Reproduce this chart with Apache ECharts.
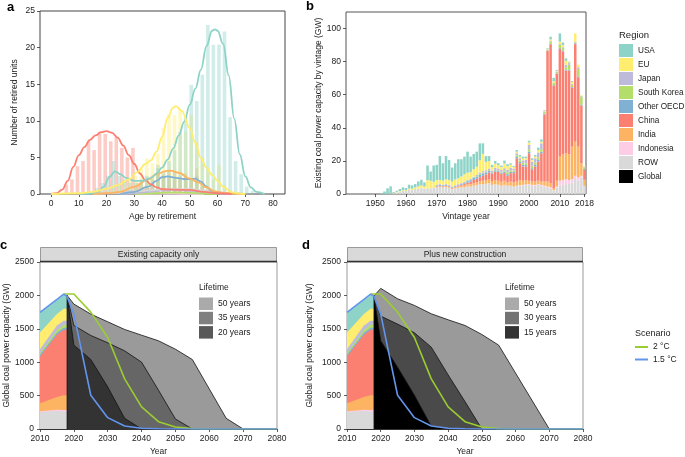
<!DOCTYPE html>
<html><head><meta charset="utf-8">
<script src="https://cdn.jsdelivr.net/npm/echarts@6/dist/echarts.min.js"></script>
<style>html,body{margin:0;padding:0;background:#fff}#c{width:685px;height:457px}</style>
</head><body><div id="c"></div>
<script>
// ---------- shared ----------
const regionNames = ['USA','EU','Japan','South Korea','Other OECD','China','India','Indonesia','ROW'];
const stackOrder = ['ROW','Indonesia','India','China','Other OECD','South Korea','Japan','EU','USA'];
const regionColors = {'USA':'#8DD3C7','EU':'#FFED6F','Japan':'#BEBADA','South Korea':'#B3DE69','Other OECD':'#80B1D3','China':'#FB8072','India':'#FDB462','Indonesia':'#FCCDE5','ROW':'#D9D9D9'};

// ---------- panel a: histograms [age bin centre, count] ----------
const ageTicks = [0,10,20,30,40,50,60,70,80];
const countTicks = [0,5,10,15,20,25];
const histChina = [[5.5,1.3],[7.5,2.0],[9.5,3.8],[11.5,4.5],[13.5,7.2],[15.5,6.0],[17.5,8.5],[19.5,8.2],[21.5,7.2],[23.5,7.8],[25.5,6.3],[27.5,5.0],[29.5,6.3],[31.5,1.5],[33.5,1.0],[35.5,0.8],[37.5,0.5],[41.5,0.6],[45.5,0.5],[49.5,0.6]];
const histUSA = [[14.5,0.3],[16.5,0.8],[18.5,1.5],[20.5,2.5],[22.5,4.5],[24.5,2.5],[26.5,2.0],[28.5,1.5],[30.5,1.5],[32.5,2.0],[34.5,2.5],[36.5,2.0],[38.5,3.5],[40.5,3.0],[42.5,4.5],[44.5,6.0],[46.5,8.5],[48.5,10.5],[50.5,14.9],[52.5,12.7],[54.5,16.3],[56.5,23.1],[58.5,20.4],[60.5,20.4],[62.5,22.2],[64.5,10.5],[66.5,4.5],[68.5,2.7],[70.5,1.0],[72.5,0.4]];
const histEU = [[20.5,0.8],[22.5,1.0],[24.5,1.2],[26.5,1.6],[28.5,2.2],[30.5,2.5],[32.5,3.5],[34.5,4.9],[36.5,4.2],[38.5,5.5],[40.5,9.0],[42.5,10.9],[44.5,10.8],[46.5,11.6],[48.5,8.5],[50.5,10.8],[52.5,7.0],[54.5,5.0],[56.5,3.5],[58.5,2.0],[60.5,4.0],[62.5,1.2],[64.5,0.5]];
const histIndia = [[28.5,0.5],[30.5,1.0],[32.5,1.5],[34.5,2.0],[36.5,2.5],[38.5,3.0],[40.5,2.7],[42.5,3.2],[44.5,3.0],[46.5,2.5],[48.5,2.8],[50.5,2.2],[52.5,3.5],[54.5,1.2],[56.5,0.6],[58.5,0.4],[60.5,0.2]];
const histOtherOECD = [[32.5,0.5],[34.5,1.0],[36.5,1.5],[38.5,4.0],[40.5,2.5],[42.5,2.5],[44.5,2.0],[46.5,2.2],[48.5,2.0],[50.5,2.0],[52.5,2.5],[54.5,1.0],[56.5,0.5]];
const histJapan = [[36.5,0.3],[40.5,0.8],[44.5,0.6],[48.5,0.5],[52.5,0.4]];
const histROW = [[30.5,0.3],[34.5,0.5],[38.5,0.8],[42.5,1.0],[46.5,0.8],[50.5,0.8],[54.5,0.6],[58.5,0.3]];
const histSouthKorea = [[40.5,0.2],[44.5,0.3],[48.5,0.2]];
const histIndonesia = [[38.5,0.1]];

// ---------- panel a: density curves [age, count] ----------
const curveChina = [[0,0],[2,0.1],[4,0.6],[6,1.8],[8,3.7],[10,5.3],[12,6.4],[14,7.4],[16,8.0],[18,8.45],[20,8.6],[22,8.35],[24,7.7],[26,6.6],[28,5.3],[30,4.1],[32,2.8],[34,1.9],[36,1.3],[38,0.9],[40,0.65],[45,0.6],[50,0.55],[55,0.3],[60,0.1],[65,0]];
const curveUSA = [[10,0],[14,0.05],[17,0.3],[19,1.0],[21,2.3],[23,3.1],[25,2.7],[27,2.2],[30,1.8],[33,1.8],[36,2.2],[38,2.8],[40,3.6],[42,4.7],[44,6.2],[46,8.0],[48,9.9],[50,12.2],[52,14.4],[54,17.0],[56,20.2],[58,22.3],[59,22.5],[60,22.3],[62,20.5],[64,16.2],[66,10.3],[68,5.4],[70,2.4],[72,0.9],[74,0.3],[77,0]];
const curveEU = [[0,0],[10,0.1],[15,0.3],[20,0.7],[24,1.2],[28,2.0],[31,3.0],[34,4.1],[36,4.6],[38,5.8],[40,7.8],[42,10.4],[44,11.8],[45,12.0],[47,11.4],[50,9.0],[52,7.0],[54,4.9],[56,3.6],[58,2.6],[60,1.8],[62,1.0],[65,0.25],[68,0.05],[70,0]];
const curveIndia = [[15,0],[20,0.1],[25,0.3],[30,1.0],[35,2.0],[38,2.7],[41,3.1],[43,3.2],[46,2.9],[50,2.1],[53,1.6],[56,0.9],[59,0.35],[62,0.15],[66,0.05],[70,0]];
const curveOtherOECD = [[25,0],[30,0.3],[35,1.0],[38,1.8],[40,2.3],[42,2.4],[45,2.2],[48,2.05],[50,2.05],[52,2.1],[54,1.7],[56,1.0],[58,0.4],[60,0.15],[63,0]];
const curveJapan = [[25,0],[30,0.1],[35,0.3],[40,0.5],[45,0.55],[50,0.45],[55,0.3],[60,0.1],[65,0]];
const curveROW = [[15,0],[20,0.1],[25,0.2],[30,0.35],[35,0.5],[40,0.65],[45,0.7],[50,0.65],[55,0.5],[60,0.3],[65,0.1],[70,0]];
const curveSouthKorea = [[30,0],[35,0.05],[40,0.15],[45,0.2],[50,0.15],[55,0.05],[60,0]];
const curveIndonesia = [[30,0],[35,0.03],[40,0.05],[45,0.05],[50,0.02],[55,0]];

// ---------- panel b: capacity by vintage (GW), years 1941..2018 ----------
const vintageFirst = 1941, vintageLast = 2018;
const vintageYears = [];
for (let y = vintageFirst; y <= vintageLast; y++) vintageYears.push(String(y));
const vintageTickYears = ['1950','1960','1970','1980','1990','2000','2010','2018'];
const vintageValueTicks = [0,20,40,60,80,100];
const vinROW = [0,0,0,0,0,0,0,0,0,0, 0,0,0,0,0,0.5,1.0,1.3,1.8,1.8, 2.5,2.5,3.0,3.2,3.5,3.3,3.4,3.5,3.6,4.0, 4.2,4.0,4.2,3.8,3.0,3.5,3.8,4.0,4.2,4.5, 4.5,5.0,5.5,5.8,6.0,6.2,6.5,5.5,6.0,5.5, 5.0,5.5,5.0,5.0,4.5,5.0,5.0,5.2,5.5,5.5, 5.0,5.0,5.5,5.0,4.5,4.0,3.5,2.0,4.0,5.0, 5.5,6.0,6.0,7.0,9.0,8.0,10.0,5.0];
const vinIndonesia = [0,0,0,0,0,0,0,0,0,0, 0,0,0,0,0,0,0,0,0,0, 0,0,0,0,0,0,0,0,0,0, 0,0,0,0,0,0,0,0,0,0, 0,0,0,0,0,0,0,0,0,0, 0,0,0,0,0,0,0.3,0.3,0.3,0.5, 0.5,0.5,0.5,0.5,0.5,0.5,0.5,0.3,0.5,3.0, 3.0,3.0,2.5,2.0,2.0,2.0,1.0,0];
const vinIndia = [0,0,0,0,0,0,0,0,0,0, 0,0,0,0,0,0,0,0,0,0, 0,0,0,0,0,0,0,0,0.3,0.4, 0.5,0.5,0.6,0.5,0.5,0.6,0.8,1.0,1.2,1.3, 1.4,1.5,1.6,1.8,2.0,2.2,2.5,2.3,2.5,2.5, 2.4,2.5,2.0,2.5,2.5,2.5,3.0,2.5,2.5,2.0, 2.0,2.0,2.0,2.0,2.5,3.0,2.5,1.0,3.5,14.6, 15.5,15.6,15.5,19.6,20.6,18.6,7.6,3.6];
const vinChina = [0,0,0,0,0,0,0,0,0,0, 0,0,0,0,0,0,0,0,0,0, 0,0,0,0,0,0,0,0,0,0, 0.3,0.3,0.3,0.3,0.3,0.4,0.5,0.6,0.8,1.0, 1.5,2.0,2.2,2.5,3.0,3.5,4.0,4.5,5.0,5.5, 5.0,4.8,4.0,5.1,5.6,14.1,10.3,8.6,8.3,16.6, 7.1,9.1,11.6,17.1,40.6,79.0,84.0,62.3,64.6,65.0, 62.2,50.0,50.6,35.6,59.0,42.0,35.0,6.0];
const vinOtherOECD = [0,0,0,0,0,0,0,0,0,0, 0,0,0,0,0,0,0,0,0,0, 0,0,0,0,0,0,0,0,0,0.5, 0.6,0.5,0.5,0.5,0.4,0.5,0.5,0.6,0.8,1.0, 1.0,1.2,1.2,1.5,1.5,1.2,1.0,0.8,0.8,0.6, 0.6,0.8,1.0,0.8,0.8,0.8,0.8,1.0,1.0,1.0, 1.0,1.0,1.0,1.0,0.5,0.2,0.2,0.2,0.3,0.5, 0.5,0.5,0.5,0.5,0.5,0.5,0.5,0.5];
const vinSouthKorea = [0,0,0,0,0,0,0,0,0,0, 0,0,0,0,0,0,0,0,0,0, 0,0,0,0,0,0,0,0,0,0, 0,0,0,0,0,0,0,0,0,0.2, 0.2,0.3,0.4,0.5,0.5,0.5,0.4,0.3,0.3,0.3, 0.5,0.8,1.2,1.0,0.8,1.0,1.0,1.2,1.0,1.5, 1.5,1.5,1.5,1.5,1.0,0.3,1.5,1.2,0.8,2.0, 1.5,1.5,3.0,1.5,0.5,4.5,4.5,1.0];
const vinJapan = [0,0,0,0,0,0,0,0,0,0, 0,0,0,0,0,0,0,0,0,0, 0,0,0,0,0,0,0,0,0,0.5, 0.4,0.3,0.4,0.4,0.3,0.3,0.3,0.4,0.4,0.4, 0.5,0.5,0.6,0.8,0.8,0.8,1.0,0.8,1.2,1.0, 1.0,1.2,1.5,1.5,1.2,1.2,1.2,1.5,2.0,2.5, 2.5,2.5,3.0,3.5,0.3,0.2,0.3,0.2,0.3,0.5, 0.5,1.5,1.0,0.5,0.4,1.0,0.5,0.5];
const vinEU = [0,0,0,0,0,0,0,0,0,0, 0,0,0,0,0.3,0.2,0.3,0.4,0.5,0.5, 0.8,0.7,1.0,1.4,1.6,1.2,5.0,4.5,3.5,3.0, 2.5,2.5,2.8,3.0,3.0,3.5,3.6,4.0,4.5,4.5, 4.0,4.5,5.0,7.5,10.5,5.0,4.5,2.0,2.5,2.0, 1.8,2.8,2.2,1.8,1.0,1.0,1.0,1.3,1.0,1.6, 1.0,1.0,1.5,1.0,0.3,0.3,1.0,1.0,0.5,1.5, 1.3,2.4,0.5,1.0,5.0,1.6,0.5,0.4];
const vinUSA = [0,0,0,0,0,0,0,0,0,0, 0,0.5,1.5,3.4,4.3,0.5,0.7,1.3,1.7,1.3, 2.3,2.0,2.0,3.0,3.5,2.5,8.8,5.6,9.8,9.2, 14.5,10.5,14.2,12.1,8.5,9.8,11.5,10.4,10.7,12.7, 9.5,9.2,9.1,10.2,6.3,3.5,3.0,1.4,1.7,1.2, 0.9,1.8,1.1,0.9,0.6,1.0,1.0,1.0,1.0,1.0, 1.0,1.0,1.4,1.4,0.4,0.5,1.5,2.0,0.5,5.0, 1.6,1.5,0.4,0.5,0,0,0,0];

// ---------- panels c & d: existing capacity by region (GW) ----------
const capYears = [2010, 2015, 2017, 2018];
const capROW = [255, 270, 260, 260];
const capIndonesia = [10, 20, 25, 25];
const capIndia = [120, 190, 220, 220];
const capChina = [700, 930, 980, 980];
const capOtherOECD = [25, 30, 30, 30];
const capSouthKorea = [25, 40, 45, 45];
const capJapan = [60, 70, 60, 60];
const capEU = [250, 170, 180, 180];
const capUSA = [300, 215, 210, 210];
const yearTicks = [2010,2020,2030,2040,2050,2060,2070,2080];
const gwTicks = [0,500,1000,1500,2000,2500];

// global retirement pathways [year, GW]
const c50years = [[2018,2000],[2020,1870],[2025,1720],[2030,1605],[2035,1490],[2040,1405],[2045,1320],[2050,1195],[2055,1040],[2060,600],[2065,160],[2070,0]];
const c35years = [[2018,2000],[2020,1550],[2025,1400],[2030,1290],[2035,1170],[2040,1000],[2045,580],[2050,150],[2055,0]];
const c20years = [[2018,0],[2018,2000],[2020,1255],[2025,1040],[2030,630],[2035,160],[2040,0]];
const d50years = [[2018,1990],[2020,2105],[2025,1950],[2030,1850],[2035,1725],[2040,1635],[2045,1550],[2050,1415],[2055,1255],[2070,0]];
const d30years = [[2018,1990],[2020,1690],[2025,1570],[2030,1440],[2035,1225],[2040,810],[2045,410],[2050,0]];
const d15years = [[2018,0],[2018,1990],[2020,1320],[2025,925],[2030,505],[2035,40],[2040,0]];
// scenarios
const scen2C = [[2017,2020],[2020,2020],[2025,1750],[2030,1370],[2035,750],[2040,330],[2045,110],[2050,30],[2055,5],[2060,0],[2080,0]];
const scen15C = [[2010,1745],[2015,1940],[2017,2020],[2018,1985],[2020,1720],[2025,505],[2030,170],[2035,45],[2040,12],[2045,4],[2050,0],[2080,0]];

// ---------- build ----------
const FONT = 'Liberation Sans, Arial, Helvetica, sans-serif';
const TXT = '#222';
const histBy = {'USA':histUSA,'EU':histEU,'Japan':histJapan,'South Korea':histSouthKorea,'Other OECD':histOtherOECD,'China':histChina,'India':histIndia,'Indonesia':histIndonesia,'ROW':histROW};
const curveBy = {'USA':curveUSA,'EU':curveEU,'Japan':curveJapan,'South Korea':curveSouthKorea,'Other OECD':curveOtherOECD,'China':curveChina,'India':curveIndia,'Indonesia':curveIndonesia,'ROW':curveROW};
const vinBy = {'USA':vinUSA,'EU':vinEU,'Japan':vinJapan,'South Korea':vinSouthKorea,'Other OECD':vinOtherOECD,'China':vinChina,'India':vinIndia,'Indonesia':vinIndonesia,'ROW':vinROW};
const capBy = {'USA':capUSA,'EU':capEU,'Japan':capJapan,'South Korea':capSouthKorea,'Other OECD':capOtherOECD,'China':capChina,'India':capIndia,'Indonesia':capIndonesia,'ROW':capROW};

// cumulative tops of the stacked regional areas
const capCum = {};
let run = capYears.map(() => 0);
stackOrder.forEach(r => { run = run.map((v, i) => v + capBy[r][i]); capCum[r] = run.slice(); });

const series = [];
// panel b stacked bars
stackOrder.forEach(r => series.push({
  name: r, type: 'bar', xAxisIndex: 1, yAxisIndex: 1, stack: 'vint',
  barCategoryGap: '18%', data: vinBy[r], itemStyle: {color: regionColors[r]}, silent: true
}));
series.push({name: 'Global', type: 'bar', xAxisIndex: 1, yAxisIndex: 1, stack: 'vint', data: [], itemStyle: {color: '#000'}});
// panel a histograms
const aOrder = ['ROW','Indonesia','South Korea','Japan','Other OECD','India','China','EU','USA'];
aOrder.forEach(r => series.push({
  name: r, type: 'bar', xAxisIndex: 0, yAxisIndex: 0, barWidth: 3.6, barGap: '-100%',
  data: histBy[r], itemStyle: {color: regionColors[r], opacity: 0.4}, silent: true, z: 2
}));
// panel a curves
const curveOrder = ['Indonesia','South Korea','Japan','ROW','Other OECD','India','China','USA','EU'];
curveOrder.forEach(r => series.push({
  name: r, type: 'line', xAxisIndex: 0, yAxisIndex: 0, smooth: 0.4, smoothMonotone: 'x',
  symbol: 'none', data: curveBy[r], lineStyle: {color: regionColors[r], width: 1.8},
  itemStyle: {color: regionColors[r]}, silent: true, z: 3
}));
// panels c & d: regional areas (drawn top layer first, each filled to zero)
[2, 3].forEach(gi => {
  stackOrder.slice().reverse().forEach(r => series.push({
    name: r, type: 'line', xAxisIndex: gi, yAxisIndex: gi, symbol: 'none',
    data: capYears.map((y, i) => [y, capCum[r][i]]),
    lineStyle: {width: 0}, areaStyle: {color: regionColors[r], opacity: 1},
    itemStyle: {color: regionColors[r]}, silent: true, z: 2
  }));
});
function area(name, gi, data, color) {
  return {name, type: 'line', xAxisIndex: gi, yAxisIndex: gi, symbol: 'none', data,
    lineStyle: {color: '#111', width: 0.8}, areaStyle: {color, opacity: 1},
    itemStyle: {color}, silent: true, z: 3};
}
series.push(area('50 years', 2, c50years, '#9a9a9a'));
series.push(area('35 years', 2, c35years, '#666666'));
series.push(area('20 years', 2, c20years, '#333333'));
series.push(area('50 years', 3, d50years, '#9a9a9a'));
series.push(area('30 years', 3, d30years, '#4a4a4a'));
series.push(area('15 years', 3, d15years, '#000000'));
[2, 3].forEach(gi => {
  series.push({name: '2 °C', type: 'line', xAxisIndex: gi, yAxisIndex: gi, symbol: 'none', data: scen2C,
    lineStyle: {color: '#9ACD32', width: 1.6}, itemStyle: {color: '#9ACD32'}, silent: true, z: 4});
  series.push({name: '1.5 °C', type: 'line', xAxisIndex: gi, yAxisIndex: gi, symbol: 'none', data: scen15C,
    lineStyle: {color: '#6495ED', width: 1.6}, itemStyle: {color: '#6495ED'}, silent: true, z: 5});
});

const plain = v => String(v);
const nameTS = {fontSize: 8.5, color: TXT, fontFamily: FONT};
function tickOpt(vals) { return {show: true, length: 3, lineStyle: {color: '#333', width: 0.8}, customValues: vals}; }
function labOpt(vals, margin) { return {fontSize: 8.5, color: TXT, fontFamily: FONT, margin, customValues: vals, formatter: plain}; }
const noLine = {show: false, onZero: false};

const option = {
  animation: false,
  textStyle: {fontFamily: FONT},
  grid: [
    {left: 40, top: 11, width: 245, height: 183, show: true, borderColor: '#444', borderWidth: 1},
    {left: 346, top: 12, width: 240, height: 182, show: true, borderColor: '#555', borderWidth: 1},
    {left: 40, top: 262, width: 237, height: 169, show: true, borderColor: '#999', borderWidth: 1},
    {left: 347, top: 262, width: 236, height: 169, show: true, borderColor: '#999', borderWidth: 1}
  ],
  xAxis: [
    {gridIndex: 0, type: 'value', min: -4, max: 84.3, axisLine: noLine, axisTick: tickOpt(ageTicks),
      axisLabel: labOpt(ageTicks, 5), splitLine: {show: false},
      name: 'Age by retirement', nameLocation: 'middle', nameGap: 18, nameTextStyle: nameTS},
    {gridIndex: 1, type: 'category', data: vintageYears, boundaryGap: true,
      axisLine: noLine,
      axisTick: {show: true, length: 3, lineStyle: {color: '#333', width: 0.8}, alignWithLabel: true, interval: (i, v) => vintageTickYears.includes(v)},
      axisLabel: {fontSize: 8.5, color: TXT, fontFamily: FONT, margin: 5, interval: (i, v) => vintageTickYears.includes(v)},
      splitLine: {show: false},
      name: 'Vintage year', nameLocation: 'middle', nameGap: 18, nameTextStyle: nameTS},
    {gridIndex: 2, type: 'value', min: 2010, max: 2080,
      axisLine: {show: true, onZero: false, lineStyle: {color: '#333', width: 1}}, axisTick: tickOpt(yearTicks),
      axisLabel: labOpt(yearTicks, 5), splitLine: {show: false},
      name: 'Year', nameLocation: 'middle', nameGap: 18, nameTextStyle: nameTS},
    {gridIndex: 3, type: 'value', min: 2010, max: 2080,
      axisLine: {show: true, onZero: false, lineStyle: {color: '#333', width: 1}}, axisTick: tickOpt(yearTicks),
      axisLabel: labOpt(yearTicks, 5), splitLine: {show: false},
      name: 'Year', nameLocation: 'middle', nameGap: 18, nameTextStyle: nameTS}
  ],
  yAxis: [
    {gridIndex: 0, type: 'value', min: 0, max: 25, axisLine: noLine, axisTick: tickOpt(countTicks),
      axisLabel: labOpt(countTicks, 5), splitLine: {show: false},
      name: 'Number of retired units', nameLocation: 'middle', nameGap: 21, nameTextStyle: nameTS},
    {gridIndex: 1, type: 'value', min: 0, max: 110, axisLine: noLine, axisTick: tickOpt(vintageValueTicks),
      axisLabel: labOpt(vintageValueTicks, 5), splitLine: {show: false},
      name: 'Existing coal power capacity by vintage (GW)', nameLocation: 'middle', nameGap: 23, nameTextStyle: nameTS},
    {gridIndex: 2, type: 'value', min: 0, max: 2500, axisLine: noLine, axisTick: tickOpt(gwTicks),
      axisLabel: labOpt(gwTicks, 6), splitLine: {show: false},
      name: 'Global coal power capacity (GW)', nameLocation: 'middle', nameGap: 28, nameTextStyle: nameTS},
    {gridIndex: 3, type: 'value', min: 0, max: 2500, axisLine: noLine, axisTick: tickOpt(gwTicks),
      axisLabel: labOpt(gwTicks, 6), splitLine: {show: false},
      name: 'Global coal power capacity (GW)', nameLocation: 'middle', nameGap: 33, nameTextStyle: nameTS}
  ],
  legend: [
    {orient: 'vertical', left: 619, top: 44, padding: 0, itemWidth: 14, itemHeight: 13, itemGap: 1, icon: 'rect',
      selectedMode: false, textStyle: {fontSize: 8.2, color: TXT, lineHeight: 10, overflow: 'none'},
      itemStyle: {borderWidth: 0},
      data: regionNames.map(r => ({name: r, itemStyle: {color: regionColors[r], opacity: 1}}))
        .concat([{name: 'Global', itemStyle: {color: '#000'}}])},
    {orient: 'vertical', left: 199, top: 297.5, padding: 0, itemWidth: 14, itemHeight: 12.5, itemGap: 1.8, icon: 'rect',
      selectedMode: false, textStyle: {fontSize: 8.5, color: TXT, lineHeight: 10}, itemStyle: {borderWidth: 0},
      data: [{name: '50 years', itemStyle: {color: '#aaaaaa'}}, {name: '35 years', itemStyle: {color: '#808080'}}, {name: '20 years', itemStyle: {color: '#595959'}}]},
    {orient: 'vertical', left: 505, top: 297.5, padding: 0, itemWidth: 14, itemHeight: 12.5, itemGap: 1.8, icon: 'rect',
      selectedMode: false, textStyle: {fontSize: 8.5, color: TXT, lineHeight: 10}, itemStyle: {borderWidth: 0},
      data: [{name: '50 years', itemStyle: {color: '#aaaaaa'}}, {name: '30 years', itemStyle: {color: '#737373'}}, {name: '15 years', itemStyle: {color: '#333333'}}]},
    {orient: 'vertical', left: 635, top: 342, padding: 0, itemWidth: 13, itemHeight: 2, itemGap: 2.5, icon: 'rect',
      selectedMode: false, textStyle: {fontSize: 8.5, color: TXT, lineHeight: 10}, itemStyle: {borderWidth: 0},
      data: [{name: '2 °C', itemStyle: {color: '#9ACD32'}}, {name: '1.5 °C', itemStyle: {color: '#6495ED'}}]}
  ],
  graphic: [
    {type: 'rect', silent: true, z: 10, shape: {x: 40.5, y: 247.5, width: 236, height: 14}, style: {fill: '#d9d9d9', stroke: '#999', lineWidth: 1}},
    {type: 'line', silent: true, z: 11, shape: {x1: 40, y1: 261.5, x2: 277, y2: 261.5}, style: {stroke: '#333', lineWidth: 1.3}},
    {type: 'text', silent: true, z: 12, style: {text: 'Existing capacity only', x: 158.5, y: 254.5, align: 'center', verticalAlign: 'middle', fontSize: 8.5, fontFamily: FONT, fill: TXT}},
    {type: 'rect', silent: true, z: 10, shape: {x: 347.5, y: 247.5, width: 235, height: 14}, style: {fill: '#d9d9d9', stroke: '#999', lineWidth: 1}},
    {type: 'line', silent: true, z: 11, shape: {x1: 347, y1: 261.5, x2: 583, y2: 261.5}, style: {stroke: '#333', lineWidth: 1.3}},
    {type: 'text', silent: true, z: 12, style: {text: 'Plus new construction', x: 465, y: 254.5, align: 'center', verticalAlign: 'middle', fontSize: 8.5, fontFamily: FONT, fill: TXT}},
    {type: 'text', silent: true, style: {text: 'a', x: 7, y: 7, verticalAlign: 'middle', fontSize: 13, fontWeight: 'bold', fontFamily: FONT, fill: '#000'}},
    {type: 'text', silent: true, style: {text: 'b', x: 306, y: 6, verticalAlign: 'middle', fontSize: 13, fontWeight: 'bold', fontFamily: FONT, fill: '#000'}},
    {type: 'text', silent: true, style: {text: 'c', x: 0, y: 245, verticalAlign: 'middle', fontSize: 13, fontWeight: 'bold', fontFamily: FONT, fill: '#000'}},
    {type: 'text', silent: true, style: {text: 'd', x: 302, y: 245, verticalAlign: 'middle', fontSize: 13, fontWeight: 'bold', fontFamily: FONT, fill: '#000'}},
    {type: 'text', silent: true, style: {text: 'Region', x: 619, y: 35, verticalAlign: 'middle', fontSize: 9.5, fontFamily: FONT, fill: TXT}},
    {type: 'text', silent: true, style: {text: 'Lifetime', x: 199, y: 288, verticalAlign: 'middle', fontSize: 8.5, fontFamily: FONT, fill: TXT}},
    {type: 'text', silent: true, style: {text: 'Lifetime', x: 505, y: 288, verticalAlign: 'middle', fontSize: 8.5, fontFamily: FONT, fill: TXT}},
    {type: 'text', silent: true, style: {text: 'Scenario', x: 635, y: 334, verticalAlign: 'middle', fontSize: 9, fontFamily: FONT, fill: TXT}}
  ],
  series
};
const chart = echarts.init(document.getElementById('c'));
chart.setOption(option);
</script>
</body></html>
